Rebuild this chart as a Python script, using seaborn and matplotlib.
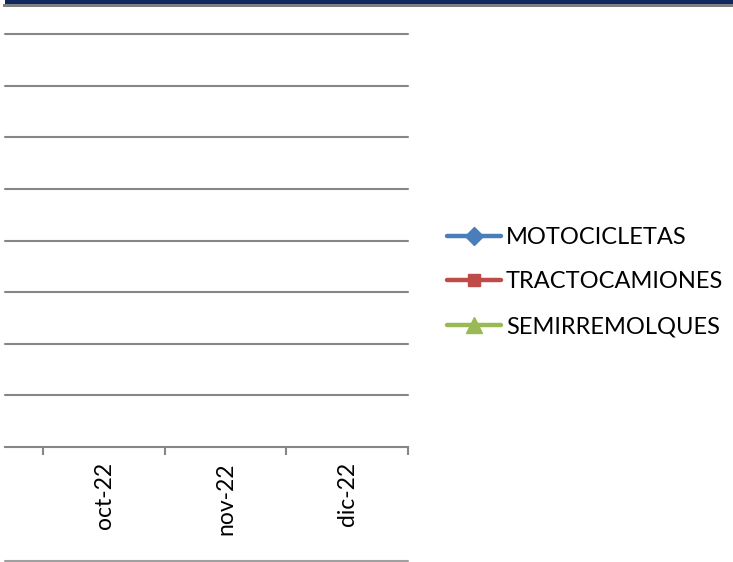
import numpy as np
import pandas as pd
import seaborn as sns
import matplotlib.pyplot as plt
from matplotlib.patches import Rectangle
from matplotlib.ticker import FixedLocator

# data (no values are visible in the chart window)
months = ['sep-22', 'oct-22', 'nov-22', 'dic-22']
motocicletas = [np.nan, np.nan, np.nan, np.nan]
tractocamiones = [np.nan, np.nan, np.nan, np.nan]
semirremolques = [np.nan, np.nan, np.nan, np.nan]

series_names = ['MOTOCICLETAS', 'TRACTOCAMIONES', 'SEMIRREMOLQUES']
series_colors = ['#4A7EBB', '#BE4B48', '#98B954']
series_markers = ['D', 's', '^']
series_msize = [9, 9, 11]

df = pd.DataFrame({'mes': months, 'MOTOCICLETAS': motocicletas,
                   'TRACTOCAMIONES': tractocamiones, 'SEMIRREMOLQUES': semirremolques})

sns.set_style('white')
plt.rcParams['font.family'] = ['Lato', 'DejaVu Sans']
plt.rcParams['text.color'] = 'black'

W, H = 733, 562
fig = plt.figure(figsize=(W / 100, H / 100), dpi=100)
ax = fig.add_axes([5 / W, (H - 447) / H, (408 - 5) / W, (447 - 34) / H])

x = np.arange(len(months))
handles = []
for name, col, mk, ms in zip(series_names, series_colors, series_markers, series_msize):
    ln, = ax.plot(x, df[name], color=col, marker=mk, markersize=ms, linewidth=3.2,
                  markeredgecolor=col, label=name, solid_capstyle='round')
    handles.append(ln)

grid_grey = '#868686'
ax.set_ylim(0, 8)
ax.set_yticks(np.arange(1, 9))
ax.tick_params(axis='y', left=False, labelleft=False)
ax.grid(axis='y', color=grid_grey, linewidth=1.5)
for gl in ax.get_ygridlines():
    gl.set_clip_on(False)
ax.set_axisbelow(True)

ax.set_xticks(x)
ax.set_xticklabels(months, rotation=90, fontsize=16.5)
ax.xaxis.set_minor_locator(FixedLocator([0.5, 1.5, 2.5, 3.5]))
ax.set_xlim(0.184, 3.5)
ax.tick_params(axis='x', which='major', bottom=True, length=0, pad=11, labelcolor='black')
ax.tick_params(axis='x', which='minor', bottom=True, length=6, width=1.5, color=grid_grey)

for s in ['top', 'right', 'left']:
    ax.spines[s].set_visible(False)
ax.spines['bottom'].set_color(grid_grey)
ax.spines['bottom'].set_linewidth(1.5)

leg = fig.legend(handles=handles, loc='center left', bbox_to_anchor=(447 / W, 1 - 282 / H),
                 frameon=False, fontsize=17, handlelength=2.3, handletextpad=0.2,
                 labelspacing=1.0, borderpad=0, borderaxespad=0)
for t in leg.get_texts():
    t.set_color('black')

# top banner and bottom rule
fig.patches.append(Rectangle((5 / W, 1 - 4 / H), 1, 4 / H, transform=fig.transFigure,
                             facecolor='#0F285E', edgecolor='none'))
fig.patches.append(Rectangle((3 / W, 1 - 6.5 / H), 1, 2.5 / H, transform=fig.transFigure,
                             facecolor='#7F7F7F', edgecolor='none'))
fig.lines.append(plt.Line2D([5 / W, 408 / W], [1 - 561 / H, 1 - 561 / H],
                            transform=fig.transFigure, color='#A0A0A0', linewidth=1.5))

fig.savefig('out.png', dpi=100)
